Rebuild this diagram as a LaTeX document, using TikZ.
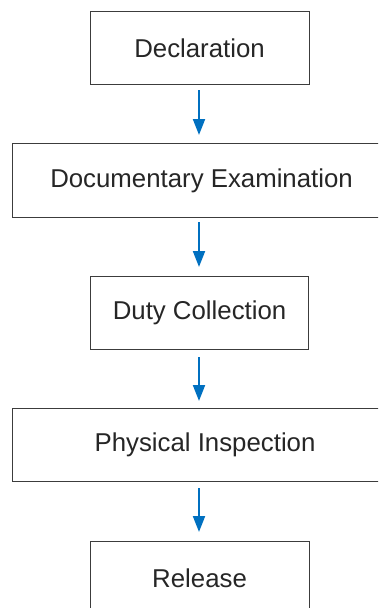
\documentclass[tikz,border=0pt]{standalone}
\usepackage{fontspec}
\setmainfont{Liberation Sans}
\usetikzlibrary{arrows.meta}
\definecolor{arrowblue}{RGB}{0,112,192}
\definecolor{boxgray}{RGB}{60,60,60}
\begin{document}
\begin{tikzpicture}[x=1pt,y=-1pt,
  stepbox/.style={draw=boxgray,line width=1.1pt,fill=white,anchor=north west,inner sep=0pt,
    font=\fontsize{25.8}{30}\selectfont,text=black!85},
  flow/.style={draw=arrowblue,line width=2pt,-{Triangle[length=16pt,width=12pt]}}]
\useasboundingbox (0,0) rectangle (378,608);
\begin{scope}
\clip (0,0) rectangle (378,608);
\node[stepbox,minimum width=219pt,minimum height=73pt] (decl) at (89.5,11) {Declaration};
\node[stepbox,minimum width=380pt,minimum height=74pt] (doc) at (11.5,143) {\hspace*{-1pt}Documentary Examination};
\node[stepbox,minimum width=218pt,minimum height=73pt] (duty) at (90,276) {Duty Collection};
\node[stepbox,minimum width=380pt,minimum height=73pt] (phys) at (11.5,408) {\hspace*{6pt}Physical Inspection};
\node[stepbox,minimum width=219pt,minimum height=90pt] (rel) at (89.5,541) {\raisebox{17pt}{Release}};
\coordinate (a1s) at (199,90);  \coordinate (a1e) at (199,135);
\coordinate (a2s) at (199,222); \coordinate (a2e) at (199,267);
\coordinate (a3s) at (199,357); \coordinate (a3e) at (199,401);
\coordinate (a4s) at (199,488); \coordinate (a4e) at (199,532);
\draw[flow] (a1s) -- (a1e);
\draw[flow] (a2s) -- (a2e);
\draw[flow] (a3s) -- (a3e);
\draw[flow] (a4s) -- (a4e);
\end{scope}
\end{tikzpicture}
\end{document}
